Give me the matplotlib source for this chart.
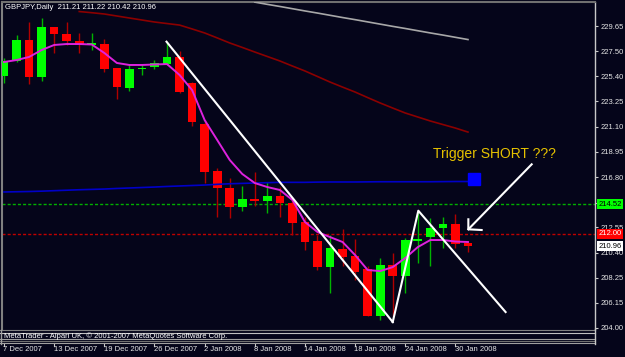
#!/usr/bin/env python3
"""GBPJPY daily candles with moving averages, levels and trend lines (MT4 style)."""

import matplotlib
matplotlib.use("Agg")
import matplotlib.pyplot as plt
from matplotlib.lines import Line2D

plt.rcParams["font.family"] = ["Liberation Sans", "DejaVu Sans"]

BG = "#05051A"
W, H = 625, 357

# --- data ---
date_labels = ["7 Dec 2007", "13 Dec 2007", "19 Dec 2007", "26 Dec 2007", "2 Jan 2008",
               "8 Jan 2008", "14 Jan 2008", "18 Jan 2008", "24 Jan 2008", "30 Jan 2008"]
date_idx = [0, 4, 8, 12, 16, 20, 24, 28, 32, 36]

opens = [225.40, 226.68, 228.46, 225.29, 229.54, 228.97, 228.38, 228.01, 228.12, 226.06,
         224.41, 226.00, 226.14, 226.40, 226.99, 224.78, 221.33, 217.30, 215.89, 214.30,
         214.95, 214.78, 215.23, 214.59, 213.02, 211.38, 209.15, 210.73, 210.11, 209.00,
         205.01, 209.34, 208.41, 211.41, 211.70, 212.46, 212.83, 211.21]
highs = [226.93, 228.89, 230.02, 230.30, 229.60, 230.02, 229.03, 229.03, 228.52, 226.08,
         226.40, 226.40, 226.76, 228.32, 227.55, 224.90, 221.67, 217.56, 216.71, 216.08,
         217.22, 216.40, 215.99, 215.15, 213.45, 211.89, 211.89, 212.38, 211.53, 209.26,
         209.94, 210.39, 211.60, 213.87, 213.31, 213.40, 213.65, 211.22]
lows = [224.81, 226.59, 224.72, 224.98, 227.36, 228.04, 227.33, 227.61, 225.77, 223.45,
        224.13, 225.49, 226.00, 226.35, 223.93, 221.15, 216.34, 213.45, 213.36, 213.91,
        214.38, 213.74, 213.45, 211.89, 210.62, 208.92, 206.94, 209.26, 208.07, 205.01,
        204.67, 205.01, 206.99, 209.52, 209.26, 210.76, 210.76, 210.42]
closes = [226.68, 228.46, 225.29, 229.54, 228.94, 228.40, 228.01, 228.18, 225.97, 224.49,
          226.00, 226.11, 226.48, 226.99, 224.07, 221.47, 217.25, 215.86, 214.25, 214.95,
          214.78, 215.23, 214.59, 212.89, 211.32, 209.15, 210.76, 209.99, 208.78, 205.01,
          209.34, 208.44, 211.47, 211.55, 212.46, 212.83, 211.13, 210.96]

ma_fast = [226.59, 226.76, 227.02, 227.61, 228.04, 228.12, 228.12, 228.08, 227.36, 226.51,
           226.34, 226.34, 226.38, 226.42, 225.49, 224.21, 221.66, 219.97, 218.27, 217.08,
           216.31, 215.97, 215.72, 214.87, 213.00, 212.15, 211.72, 211.30, 210.19, 208.92,
           208.83, 209.17, 209.94, 210.87, 211.47, 211.47, 211.34, 211.30]
ma_blue = [215.55, 215.57, 215.59, 215.62, 215.66, 215.70, 215.74, 215.77, 215.80, 215.85,
           215.89, 215.93, 215.97, 216.02, 216.06, 216.10, 216.14, 216.20, 216.25, 216.28,
           216.31, 216.34, 216.37, 216.37, 216.37, 216.39, 216.40, 216.40, 216.40, 216.41,
           216.42, 216.42, 216.42, 216.42, 216.42, 216.43, 216.44, 216.44]
ma_red_start = 6
ma_red = [230.88, 230.78, 230.67, 230.50, 230.33, 230.16, 229.99, 229.86, 229.73, 229.40,
          229.06, 228.64, 228.21, 227.83, 227.44, 227.06, 226.68, 226.25, 225.83, 225.36,
          224.89, 224.46, 224.04, 223.57, 223.11, 222.68, 222.26, 221.92, 221.58, 221.28,
          220.98, 220.64]
ma_grey_start = 20
ma_grey = [231.68, 231.49, 231.31, 231.12, 230.93, 230.75, 230.56, 230.37, 230.19, 230.00,
           229.81, 229.62, 229.44, 229.25, 229.06, 228.88, 228.69, 228.50]

price_ticks = [229.65, 227.50, 225.40, 223.25, 221.10, 218.95, 216.80, 214.65,
               212.55, 210.40, 208.25, 206.15, 204.00]
# 214.65 sits fully under the green level box on the reference, so no text for it
price_tick_labels = ["229.65", "227.50", "225.40", "223.25", "221.10", "218.95", "216.80", "",
                     "212.55", "210.40", "208.25", "206.15", "204.00"]
level_green = 214.52
level_red = 212.00
last_price = 210.96

# hand-drawn objects: (bar index, price)
trend_down_x, trend_down_y = [12.96, 31.0], [228.32, 204.50]
zigzag_x, zigzag_y = [31.0, 33.04, 40.0], [204.50, 213.96, 205.35]
arrow_x, arrow_y = [37.03, 42.08], [212.38, 217.90]
arrow_head_x, arrow_head_y = [37.03, 37.03, 38.09], [213.23, 212.38, 212.32]
marker_x, marker_y = 37.5, 216.66
note_x, note_y = 34.19, 218.41
note = "Trigger SHORT ???"
title = "GBPJPY,Daily  211.21 211.22 210.42 210.96"
copyright_txt = "MetaTrader - Alpari UK, \u00a9 2001-2007 MetaQuotes Software Corp."


def fx(px):
    return px / W


def fy(py):
    return 1 - py / H


fig = plt.figure(figsize=(W / 100, H / 100), dpi=100, facecolor=BG)
ax = fig.add_axes([fx(2), fy(329), (595 - 2) / W, (329 - 2) / H], facecolor=BG)
ax.set_xlim(-0.16, 47.13)
ax.set_ylim(203.91, 231.69)

# candles
idx = list(range(len(opens)))
for i in idx:
    up = closes[i] >= opens[i]
    ax.vlines(i, lows[i], highs[i], color="#00B400" if up else "#B00000", lw=1, zorder=2)
    lo = min(opens[i], closes[i])
    h = max(abs(closes[i] - opens[i]), 0.09)
    ax.bar(i, h, bottom=lo, width=0.69, color="#00FF00" if up else "#FF0000",
           linewidth=0, zorder=3)

# moving averages
ax.plot(idx, ma_blue, color="#0000C8", lw=1.2, zorder=4)
ax.plot(range(ma_red_start, ma_red_start + len(ma_red)), ma_red, color="#8B0000", lw=1.2, zorder=4)
ax.plot(range(ma_grey_start, ma_grey_start + len(ma_grey)), ma_grey, color="#A8A8A8", lw=1.2, zorder=4)
ax.plot(idx, ma_fast, color="#DD22DD", lw=1.4, zorder=4)

# levels
ax.axhline(level_green, color="#00B000", lw=1, dashes=(2.2, 1.5), zorder=1)
ax.axhline(level_red, color="#C00000", lw=1, dashes=(2.2, 1.5), zorder=1)

# trend lines, arrow, marker, note
ax.plot(trend_down_x, trend_down_y, color="white", lw=1.5, zorder=6)
ax.plot(zigzag_x, zigzag_y, color="white", lw=1.5, zorder=6)
ax.plot(arrow_x, arrow_y, color="white", lw=1.5, zorder=6)
ax.plot(arrow_head_x, arrow_head_y, color="white", lw=1.5, zorder=6)
ax.plot(marker_x, marker_y, marker="s", color="#0000FF", markersize=9, zorder=6)
ax.text(note_x, note_y, note, color="#E6C200", fontsize=10, va="baseline", ha="left", zorder=7)

# axes styling
ax.spines["bottom"].set_visible(False)
ax.spines["left"].set_color("#808080")
ax.spines["left"].set_linewidth(1.5)
ax.spines["top"].set_color("#707070")
ax.spines["top"].set_linewidth(1.5)
ax.spines["right"].set_color("#C8C8C8")
ax.spines["right"].set_linewidth(1)
ax.set_xticks([])
ax.yaxis.tick_right()
ax.set_yticks(price_ticks)
ax.set_yticklabels(price_tick_labels)
ax.tick_params(axis="y", direction="out", length=2.5, width=0.8, color="#C8C8C8",
               labelsize=5.5, pad=1.5, labelcolor="#E6E6E6")

# price boxes on the right scale
ytr = ax.get_yaxis_transform()
for val, fc, tc in [(level_green, "#00FF00", "black"), (level_red, "#FF0000", "white"),
                    (last_price, "white", "black")]:
    ax.annotate(f"{val:.2f}", xy=(1, val), xycoords=ytr, xytext=(2.5, 0),
                textcoords="offset points", ha="left", va="center", fontsize=5.5, color=tc,
                bbox=dict(boxstyle="square,pad=0.2", fc=fc, ec="none"),
                annotation_clip=False, zorder=10)

# date ticks below the strip
xtr = ax.get_xaxis_transform()
for i, lab in zip(date_idx, date_labels):
    ax.plot([i, i], [(329 - 342.5) / 327, (329 - 346) / 327], transform=xtr,
            color="#C8C8C8", lw=0.8, clip_on=False)
    ax.text(i - 0.05, (329 - 349.5) / 327, lab, transform=xtr, ha="left", va="center",
            fontsize=5.5, color="#E6E6E6", clip_on=False)

# title
fig.text(fx(5), fy(7.5), title, fontsize=5.5, color="white", va="center", ha="left")

# bottom info strip
for py, col in [(330.3, "#808080"), (332.5, "#C0C0C0"), (338.8, "#A0A0A0"),
                (340.5, "#707070"), (343.3, "#A0A0A0")]:
    fig.add_artist(Line2D([fx(0), fx(595)], [fy(py), fy(py)], color=col, lw=0.8))
fig.add_artist(Line2D([fx(595), fx(595)], [fy(329), fy(344)], color="#C8C8C8", lw=1))
fig.add_artist(Line2D([fx(0.5), fx(0.5)], [fy(330), fy(343.5)], color="#A0A0A0", lw=1))
fig.text(fx(4), fy(336.2), copyright_txt, fontsize=5.5, color="white", va="center", ha="left")

fig.savefig("out.png", dpi=100, facecolor=BG)
